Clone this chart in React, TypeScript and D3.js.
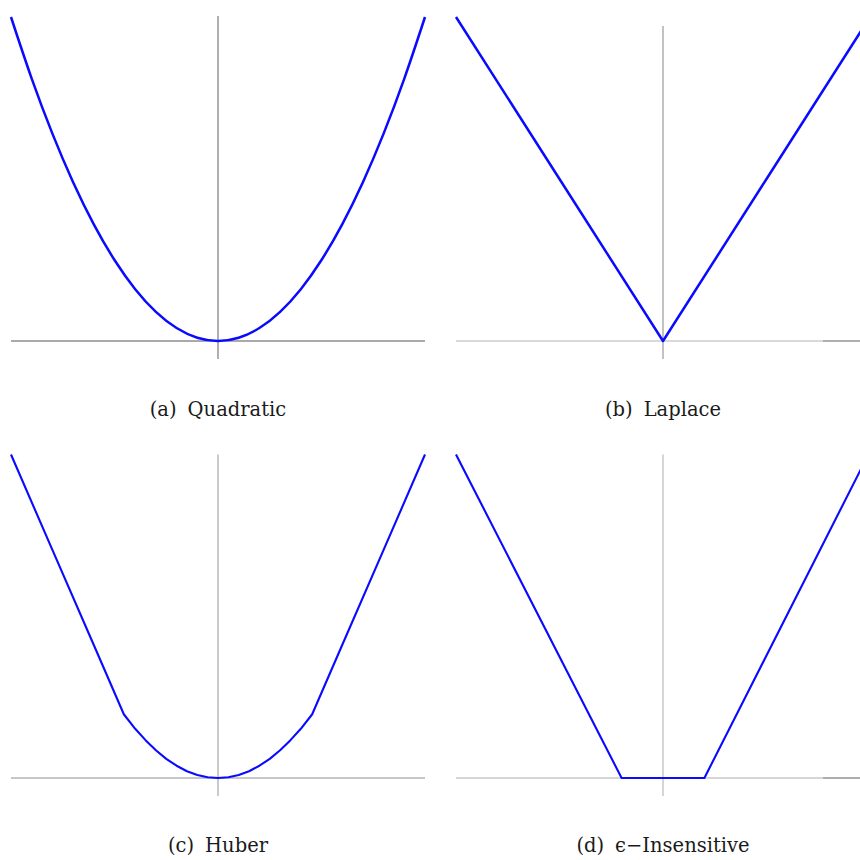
import * as d3 from 'd3';

// Loss curves: x is the residual (-1..1 across a panel),
// y is the loss (0 at the horizontal axis, 1 at the top of the panel).
const quadX = [-1, -0.9, -0.8, -0.7, -0.6, -0.5, -0.4, -0.3, -0.2, -0.1, 0, 0.1, 0.2, 0.3, 0.4, 0.5, 0.6, 0.7, 0.8, 0.9, 1];
const quadY = [1.0, 0.81, 0.64, 0.49, 0.36, 0.25, 0.16, 0.09, 0.04, 0.01, 0, 0.01, 0.04, 0.09, 0.16, 0.25, 0.36, 0.49, 0.64, 0.81, 1.0];

const laplaceX = [-1, -0.5, 0, 0.5, 1];
const laplaceY = [1.0, 0.5, 0, 0.5, 1.0];

const huberX = [-1, -0.8, -0.6, -0.455, -0.4, -0.35, -0.3, -0.25, -0.2, -0.15, -0.1, -0.05, 0,
  0.05, 0.1, 0.15, 0.2, 0.25, 0.3, 0.35, 0.4, 0.455, 0.6, 0.8, 1];
const huberY = [1.0, 0.705, 0.411, 0.197, 0.152, 0.117, 0.086, 0.059, 0.038, 0.021, 0.0095, 0.0024, 0,
  0.0024, 0.0095, 0.021, 0.038, 0.059, 0.086, 0.117, 0.152, 0.197, 0.411, 0.705, 1.0];

const epsX = [-1, -0.2, 0.2, 1];
const epsY = [1.0, 0, 0, 1.01];

const captionTags = ['(a)', '(b)', '(c)', '(d)'];
const captionNames = ['Quadratic', 'Laplace', 'Huber', '\u03F5\u2212Insensitive'];

// top of the vertical axis in loss units, per panel
const vAxisTop = [1.003, 0.972, 1.0, 1.0];

type Pt = { x: number; y: number };
const zip = (xs: number[], ys: number[]): Pt[] => xs.map((x, i) => ({ x, y: ys[i] }));

const series: Pt[][] = [
  zip(quadX, quadY),
  zip(laplaceX, laplaceY),
  zip(huberX, huberY),
  zip(epsX, epsY),
];

const W = 860;
const H = 860;
const colLeft = [11, 456];
const panelW = 414;
const rowBase = [341, 778];
const rowTop = [17, 454.5];
const captionBase = [416, 852];

const axisStyle = [
  { v: '#8e8e8e', h: '#8e8e8e' },
  { v: '#a8a8a8', h: '#cccccc' },
  { v: '#b4b4b4', h: '#b4b4b4' },
  { v: '#c4c4c4', h: '#c8c8c8' },
];

function Panel({ idx }: { idx: number }) {
  const col = idx % 2;
  const row = Math.floor(idx / 2);
  const x = d3.scaleLinear().domain([-1, 1]).range([colLeft[col], colLeft[col] + panelW]);
  const y = d3.scaleLinear().domain([0, 1]).range([rowBase[row], rowTop[row]]);
  const curve = idx === 0 ? d3.curveMonotoneX : d3.curveLinear;
  const line = d3.line<Pt>().x(d => x(d.x)).y(d => y(d.y)).curve(curve);
  const st = axisStyle[idx];
  const below = y(0) + 18;

  return (
    <g>
      <line x1={x(-1)} x2={x(1)} y1={y(0)} y2={y(0)} stroke={st.h} strokeWidth={1.4} />
      {col === 1 && (
        <line x1={x(0.773)} x2={x(1)} y1={y(0)} y2={y(0)} stroke="#a0a0a0" strokeWidth={1.4} />
      )}
      <line x1={x(0)} x2={x(0)} y1={y(vAxisTop[idx])} y2={below} stroke={st.v} strokeWidth={1.4} />
      <path
        d={line(series[idx]) ?? ''}
        fill="none"
        stroke="#0a0aff"
        strokeWidth={row === 0 ? 2.5 : 2.1}
        strokeLinejoin="round"
      />
      <text
        x={x(0)}
        y={captionBase[row]}
        textAnchor="middle"
        fontFamily="'DejaVu Serif', 'Liberation Serif', serif"
        fontSize={19.5}
        fill="#1a1a1a"
      >
        {captionTags[idx]}
        <tspan dx={11}>{captionNames[idx]}</tspan>
      </text>
    </g>
  );
}

export default function App() {
  return (
    <svg
      width={W}
      height={H}
      style={{ position: 'absolute', left: 0, top: 0, background: '#fff' }}
    >
      {[0, 1, 2, 3].map(i => (
        <Panel key={i} idx={i} />
      ))}
    </svg>
  );
}
